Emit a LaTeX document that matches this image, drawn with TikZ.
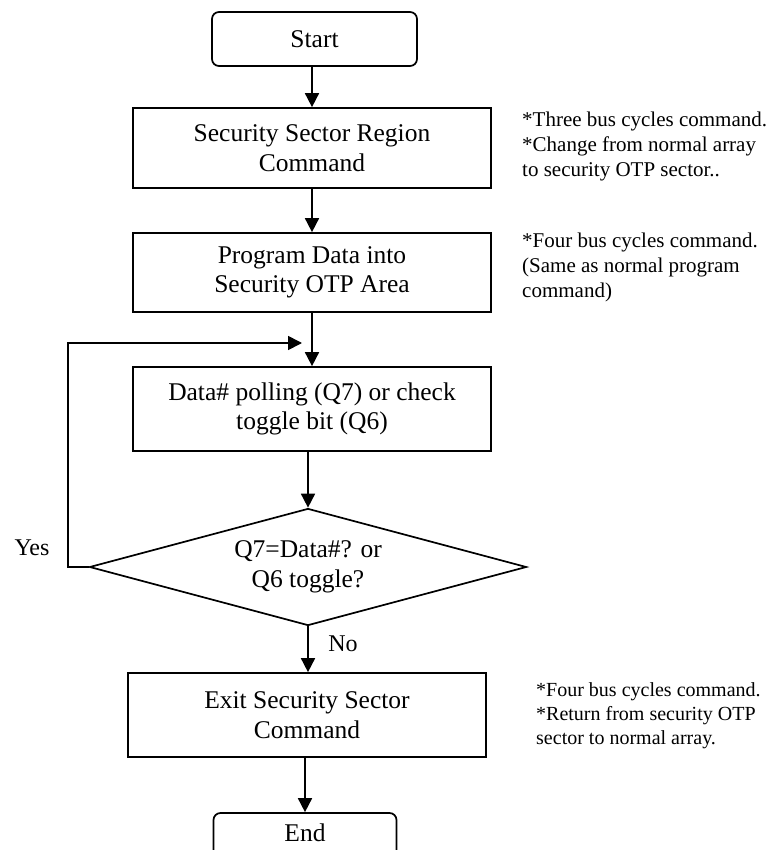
\documentclass[tikz,border=0pt]{standalone}
\usepackage{fontspec}
\setmainfont{Liberation Serif}
\usetikzlibrary{shapes.geometric,arrows.meta}
\newcommand\boxfont{\fontsize{25.5}{29.5}\selectfont}
\newcommand\notefont{\fontsize{21}{25}\selectfont}
\newcommand\smallnotefont{\fontsize{20}{24}\selectfont}
\newcommand\lblfont{\fontsize{24}{28}\selectfont}
\begin{document}
\begin{tikzpicture}[x=1pt,y=-1pt,
  proc/.style={draw, line width=1.7pt, minimum width=358pt, align=center, inner sep=0pt, font=\boxfont},
  term/.style={draw, line width=1.7pt, rounded corners=7pt, align=center, inner sep=0pt, font=\boxfont},
  dec/.style={draw, line width=1.7pt, shape=diamond, aspect=3.73, minimum width=437pt, minimum height=117pt, inner sep=0pt, align=center, font=\boxfont},
  arr/.style={line width=1.7pt, -{Triangle[length=14pt,width=14pt]}},
  lbl/.style={inner sep=0pt, font=\lblfont},
  note/.style={inner sep=0pt, align=left, anchor=north west, font=\notefont}]
\path[use as bounding box] (0,0) rectangle (772,850);
\clip (0,0) rectangle (772,850);
\fill[white] (0,0) rectangle (772,850);

\node[term, minimum width=205pt, minimum height=54pt] (start) at (314.5,39) {Start};
\node[proc, minimum height=80pt] (s1) at (312,148) {Security Sector Region\\Command};
\node[proc, minimum height=79pt] (s2) at (312,272.5) {Program Data into\\Security OTP Area};
\node[proc, minimum height=84pt] (s3) at (312,409) {Data\# polling (Q7) or check\\toggle bit (Q6)};
\node[dec] (dia) at (308,567) {Q7=Data\#? or\\Q6 toggle?};
\node[proc, minimum height=84pt] (s4) at (307,715) {Exit Security Sector\\Command};
\node[term, minimum width=183pt, minimum height=48pt, text height=17pt, text depth=8pt] (endn) at (305,837) {End};

\coordinate (loopin) at (302,343);

\draw[arr] (start.south -| s1) -- (s1.north);
\draw[arr] (s1) -- (s2);
\draw[arr] (s2) -- (s3);
\draw[arr] (s3.south -| dia) -- (dia.north);
\draw[arr] (dia.west) -- ++(-21,0) |- (loopin);
\draw[arr] (dia.south) -- (dia.south |- s4.north);
\draw[arr] (s4.south -| endn) -- (endn.north);

\node[lbl] (yes) at (32,548) {Yes};
\node[lbl] (no) at (343,644) {No};

\node[note] (n1) at (522,112) {*Three bus cycles command.\\*Change from normal array\\to security OTP sector..};
\node[note] (n2) at (522,233) {*Four bus cycles command.\\(Same as normal program\\command)};
\node[note, font=\smallnotefont] (n3) at (536,682) {*Four bus cycles command.\\*Return from security OTP\\sector to normal array.};
\end{tikzpicture}
\end{document}
